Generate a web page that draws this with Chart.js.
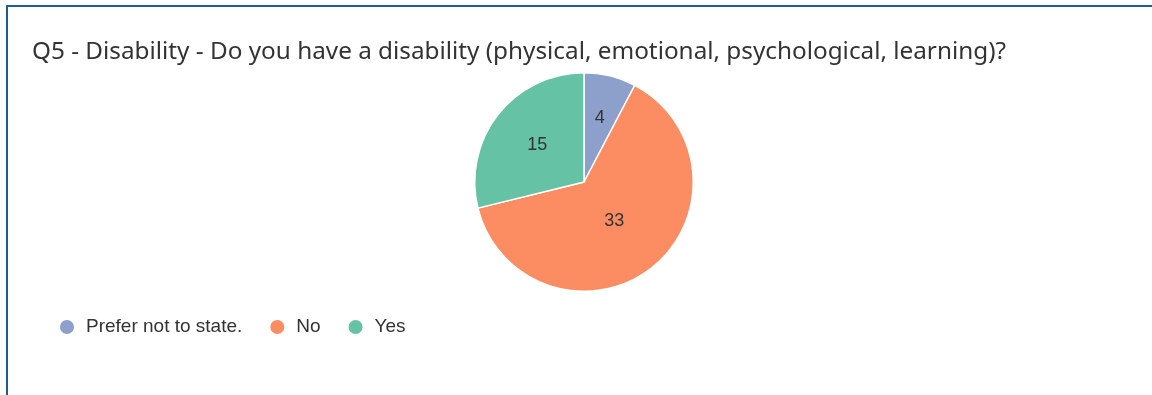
<!DOCTYPE html>
<html>
<head>
<meta charset="utf-8">
<script src="https://cdn.jsdelivr.net/npm/chart.js@4"></script>
<style>
  html, body { margin: 0; padding: 0; background: #fff; overflow: hidden; }
  #frame {
    position: absolute; left: 6px; top: 5px; width: 2000px; height: 2000px;
    border-top: 2px solid #1f5e8c; border-left: 2px solid #1f5e8c;
  }
  #wrap { position: absolute; left: 16px; top: 0; width: 1136px; height: 395px; }
</style>
</head>
<body>
<div id="frame"></div>
<div id="wrap"><canvas id="pieChart"></canvas></div>
<script>
// Chart data
var titleText = 'Q5 - Disability - Do you have a disability (physical, emotional, psychological, learning)?';
var categories = ['Prefer not to state.', 'No', 'Yes'];
var counts = [4, 33, 15];
var sliceColors = ['#8da0cb', '#fc8d62', '#66c2a5'];

// Draw the value of each slice inside it (small slices get the label further out)
var sliceLabels = {
    id: 'sliceLabels',
    afterDatasetsDraw: function(chart) {
        var ctx = chart.ctx;
        var meta = chart.getDatasetMeta(0);
        var total = counts.reduce(function(a, b) { return a + b; }, 0);
        ctx.save();
        ctx.font = '18px "Liberation Sans", Arial, sans-serif';
        ctx.fillStyle = '#333333';
        ctx.textAlign = 'center';
        ctx.textBaseline = 'middle';
        meta.data.forEach(function(arc, i) {
            var p = arc.getProps(['x', 'y', 'startAngle', 'endAngle', 'outerRadius'], true);
            var mid = (p.startAngle + p.endAngle) / 2;
            var r = p.outerRadius * (0.62 - 0.27 * counts[i] / total);
            ctx.fillText(String(counts[i]), p.x + Math.cos(mid) * r, p.y + Math.sin(mid) * r);
        });
        ctx.restore();
    }
};

var ctx = document.getElementById('pieChart').getContext('2d');
var pieChart = new Chart(ctx, {
    type: 'pie',
    data: {
        labels: categories,
        datasets: [{
            data: counts,
            backgroundColor: sliceColors,
            borderColor: '#ffffff',
            borderWidth: 1.5
        }]
    },
    options: {
        responsive: true,
        maintainAspectRatio: false,
        animation: false,
        layout: {
            padding: { left: 16, right: 16, top: 0, bottom: 48.5 }
        },
        plugins: {
            title: {
                display: true,
                text: titleText,
                align: 'start',
                color: '#333333',
                font: { family: '"Noto Sans", sans-serif', size: 24.3, weight: 'normal' },
                padding: { top: 37.3, bottom: 5.5 }
            },
            legend: {
                position: 'bottom',
                align: 'start',
                labels: {
                    usePointStyle: true,
                    pointStyle: 'circle',
                    boxWidth: 19,
                    boxHeight: 11,
                    padding: 25.5,
                    color: '#333333',
                    font: { family: '"Liberation Sans", Arial, sans-serif', size: 19 }
                }
            },
            tooltip: { enabled: false }
        }
    },
    plugins: [sliceLabels]
});
</script>
</body>
</html>
